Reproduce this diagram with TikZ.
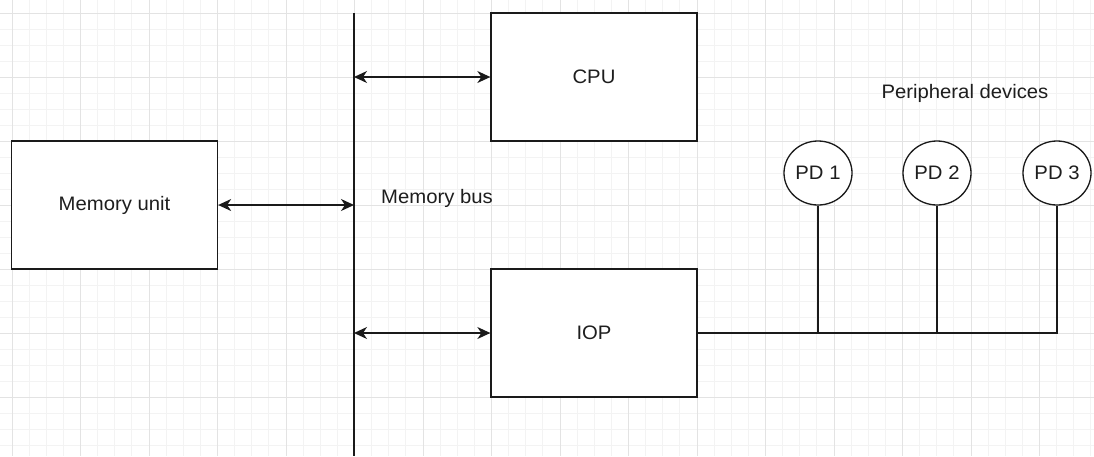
\documentclass[tikz,border=0pt]{standalone}
\usepackage{fontspec}
\setmainfont{Liberation Sans}[FakeStretch=1.04]
\usetikzlibrary{arrows.meta,shapes.geometric}
\definecolor{gminor}{HTML}{F3F3F3}
\definecolor{gmajor}{HTML}{E3E3E3}
\definecolor{txt}{HTML}{1E1E1E}
\definecolor{ln}{HTML}{1A1A1A}
\tikzset{
  box/.style={draw=ln, line width=1.3pt, fill=white, inner sep=0pt, minimum width=206pt, minimum height=128pt, text=txt, font=\fontsize{19.5}{22}\selectfont},
  pdnode/.style={draw=ln, line width=1.3pt, fill=white, ellipse, inner sep=0pt, minimum width=68pt, minimum height=64pt, text=txt, font=\fontsize{19.5}{22}\selectfont},
  lbl/.style={inner sep=0pt, text=txt, font=\fontsize{19.5}{22}\selectfont},
  wire/.style={draw=ln, line width=1.3pt},
  biarrow/.style={draw=ln, line width=1.3pt, {Stealth[length=13pt,width=12pt,inset=4pt]}-{Stealth[length=13pt,width=12pt,inset=4pt]}}
}
\begin{document}
\begin{tikzpicture}[x=1pt,y=-1pt]
\useasboundingbox (0,0) rectangle (1094,456);
\fill[white] (0,0) rectangle (1094,456);
% grid
\foreach \i in {0,...,63} {\draw[gminor, line width=1pt] ({12+17.125*\i},0) -- ({12+17.125*\i},456);}
\foreach \j in {0,...,28} {\draw[gminor, line width=1pt] (0,{13.3+16*\j}) -- (1094,{13.3+16*\j});}
\foreach \i in {0,...,15} {\draw[gmajor, line width=1pt] ({12+68.5*\i},0) -- ({12+68.5*\i},456);}
\foreach \j in {0,...,7} {\draw[gmajor, line width=1pt] (0,{13.3+64*\j}) -- (1094,{13.3+64*\j});}
% bus
\coordinate (bt) at (354,13);
\coordinate (bb) at (354,456);
\draw[wire] (bt) -- (bb);
% boxes
\node[box] (cpu) at (594,77) {CPU};
\node[box] (mem) at (114.5,205) {Memory unit};
\node[box] (iop) at (594,333) {IOP};
\node[lbl] (busl) at (437,198) {Memory bus};
\node[lbl] (perl) at (965,93) {Peripheral devices};
% peripheral devices
\node[pdnode] (pd1) at (818,173) {PD 1};
\node[pdnode] (pd2) at (937,173) {PD 2};
\node[pdnode] (pd3) at (1057,173) {PD 3};
% connectors
\draw[biarrow] (cpu.west -| bt) -- (cpu.west);
\draw[biarrow] (mem.east) -- (mem.east -| bt);
\draw[biarrow] (iop.west -| bt) -- (iop.west);
\draw[wire] (iop.east) -- (iop.east -| pd3) -- (pd3.south);
\draw[wire] (pd1.south) -- (pd1.south |- iop.east);
\draw[wire] (pd2.south) -- (pd2.south |- iop.east);
\end{tikzpicture}
\end{document}
